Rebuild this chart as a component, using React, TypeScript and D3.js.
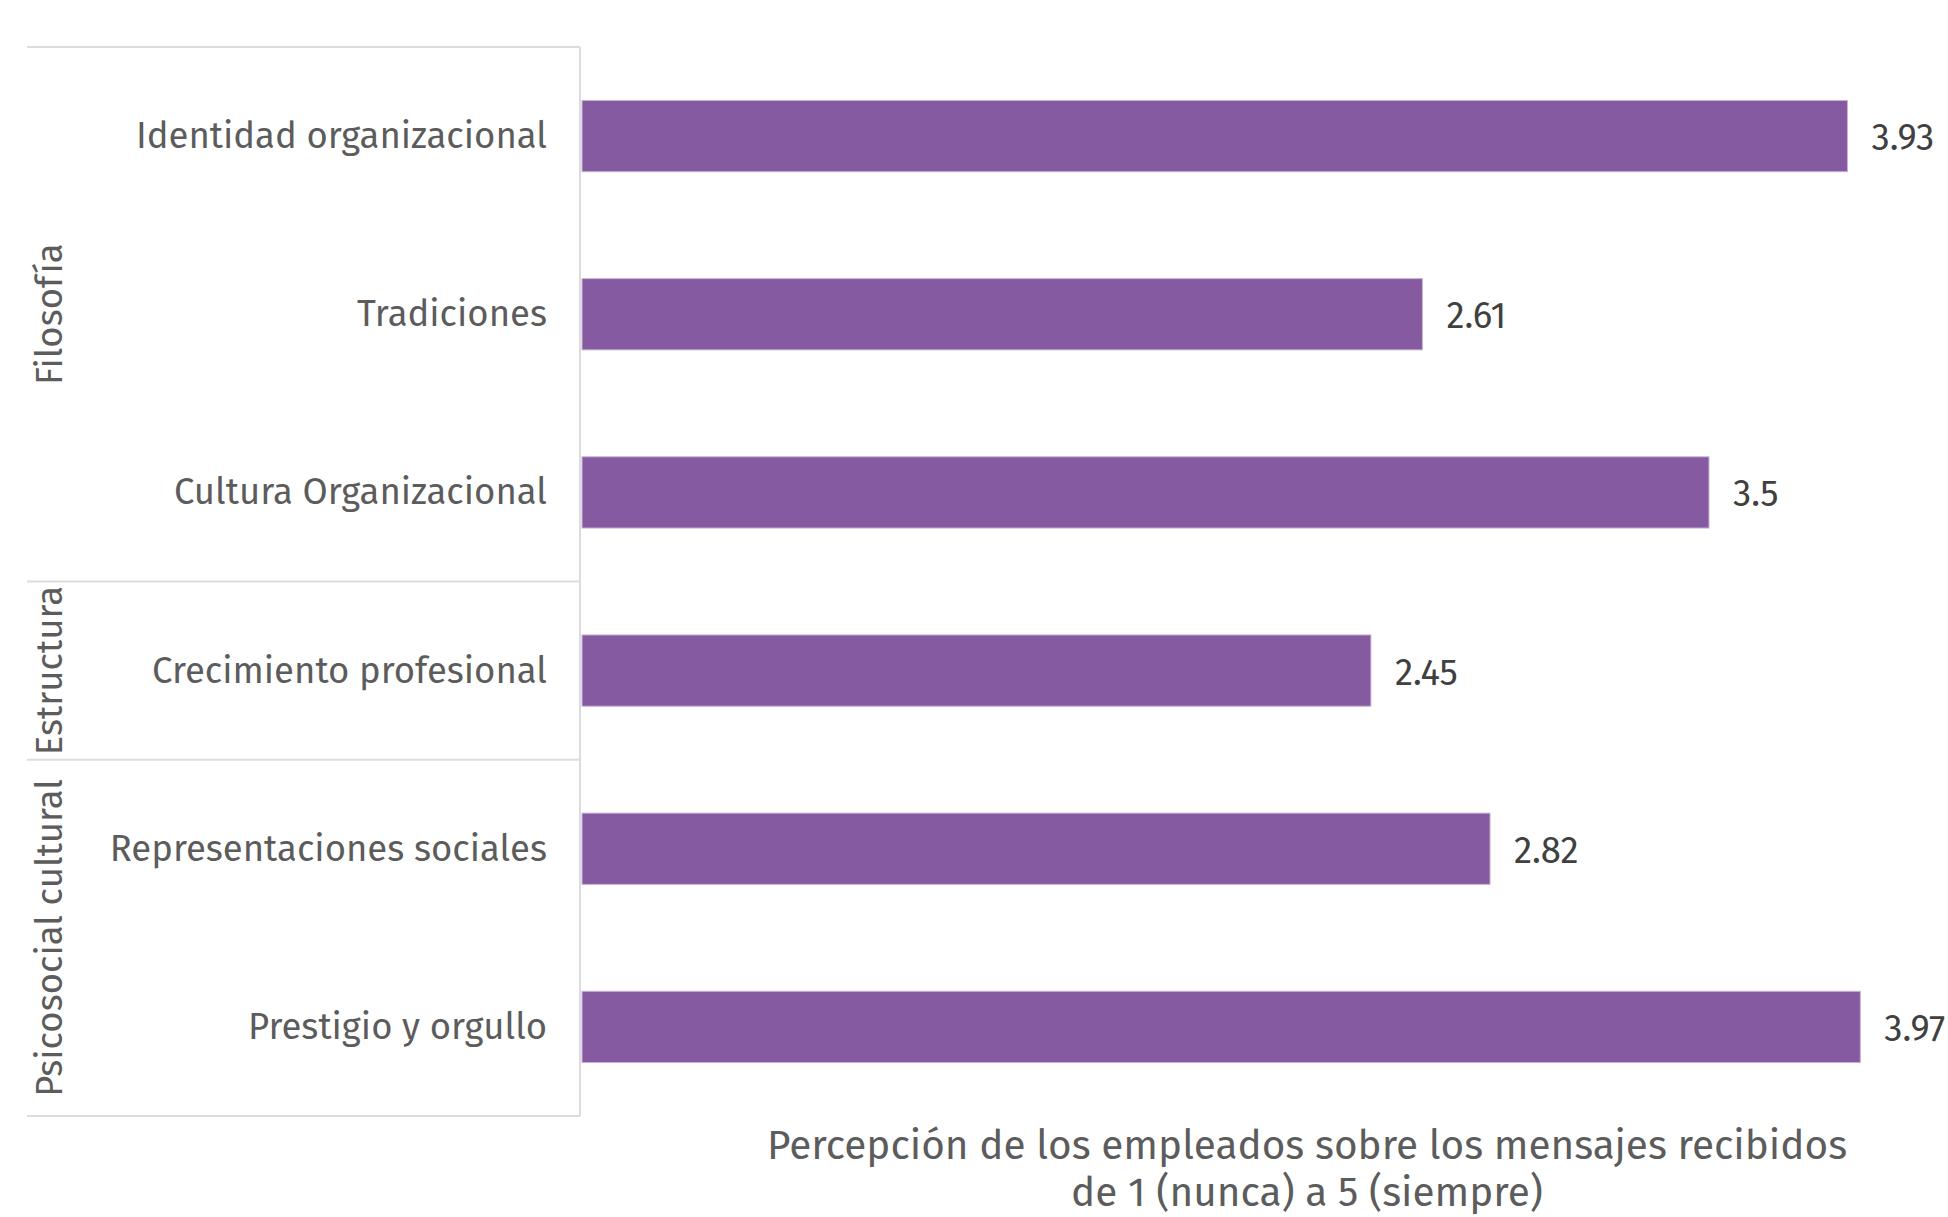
import React from "react";
import * as d3 from "d3";

const categories = [
  "Identidad organizacional",
  "Tradiciones",
  "Cultura Organizacional",
  "Crecimiento profesional",
  "Representaciones sociales",
  "Prestigio y orgullo",
];
const values = [3.93, 2.61, 3.5, 2.45, 2.82, 3.97];
const groupNames = ["Filosofía", "Estructura", "Psicosocial cultural"];
const groupSizes = [3, 1, 2];
const axisTitleLines = [
  "Percepción de los empleados sobre los mensajes recibidos",
  "de 1 (nunca) a 5 (siempre)",
];

const W = 1948;
const H = 1217;
const panelLeft = 27;
const divider = 580;
const top = 47;
const bottom = 1116;
const FONT = "'Fira Sans', 'Open Sans', 'Noto Sans', sans-serif";

export default function App() {
  const x = d3.scaleLinear().domain([0, 4]).range([582, 1870]);
  const y = d3
    .scaleBand<string>()
    .domain(categories)
    .range([top, bottom])
    .paddingInner(0.6)
    .paddingOuter(0.3);
  const step = y.step();
  const band = y.bandwidth();
  const rowTop = (i: number) => y(categories[i])! - (step - band) / 2;

  let start = 0;
  const groups = groupNames.map((g, gi) => {
    const s = start;
    const e = start + groupSizes[gi];
    start = e;
    const y0 = rowTop(s);
    const y1 = e >= categories.length ? bottom : rowTop(e);
    return { name: g, y0, y1 };
  });

  return (
    <svg
      width={W}
      height={H}
      style={{ position: "absolute", left: 0, top: 0, background: "#fff" }}
    >
      <line x1={panelLeft} x2={divider} y1={top} y2={top} stroke="#dcdcdc" strokeWidth={2} />
      {groups.map((g, i) => (
        <line key={"sep" + i} x1={panelLeft} x2={divider} y1={g.y1} y2={g.y1} stroke="#dcdcdc" strokeWidth={2} />
      ))}
      <line x1={divider} x2={divider} y1={top} y2={bottom} stroke="#dcdcdc" strokeWidth={2} />

      {groups.map((g, i) => {
        const cy = (g.y0 + g.y1) / 2;
        return (
          <text
            key={"g" + i}
            transform={`translate(50,${cy}) rotate(-90)`}
            textAnchor="middle"
            dominantBaseline="central"
            fontFamily={FONT}
            fontSize={36.5}
            fill="#5c5c5c"
          >
            {g.name}
          </text>
        );
      })}

      {categories.map((c, i) => {
        const yc = y(c)! + band / 2;
        return (
          <g key={c}>
            <text
              x={547}
              y={yc}
              textAnchor="end"
              dominantBaseline="central"
              fontFamily={FONT}
              fontSize={36.5}
              fill="#5c5c5c"
            >
              {c}
            </text>
            <rect
              x={x(0)}
              y={y(c)}
              width={x(values[i]) - x(0)}
              height={band}
              fill="#865AA0"
              stroke="#c7b3d6"
              strokeWidth={1}
            />
            <text
              x={x(values[i]) + 24}
              y={yc + 2}
              dominantBaseline="central"
              fontFamily={FONT}
              fontSize={36.5}
              fill="#404040"
            >
              {values[i]}
            </text>
          </g>
        );
      })}

      {axisTitleLines.map((t, i) => (
        <text
          key={"t" + i}
          x={1307}
          y={1159 + i * 47}
          textAnchor="middle"
          fontFamily={FONT}
          fontSize={40.5}
          fill="#5c5c5c"
        >
          {t}
        </text>
      ))}
    </svg>
  );
}
